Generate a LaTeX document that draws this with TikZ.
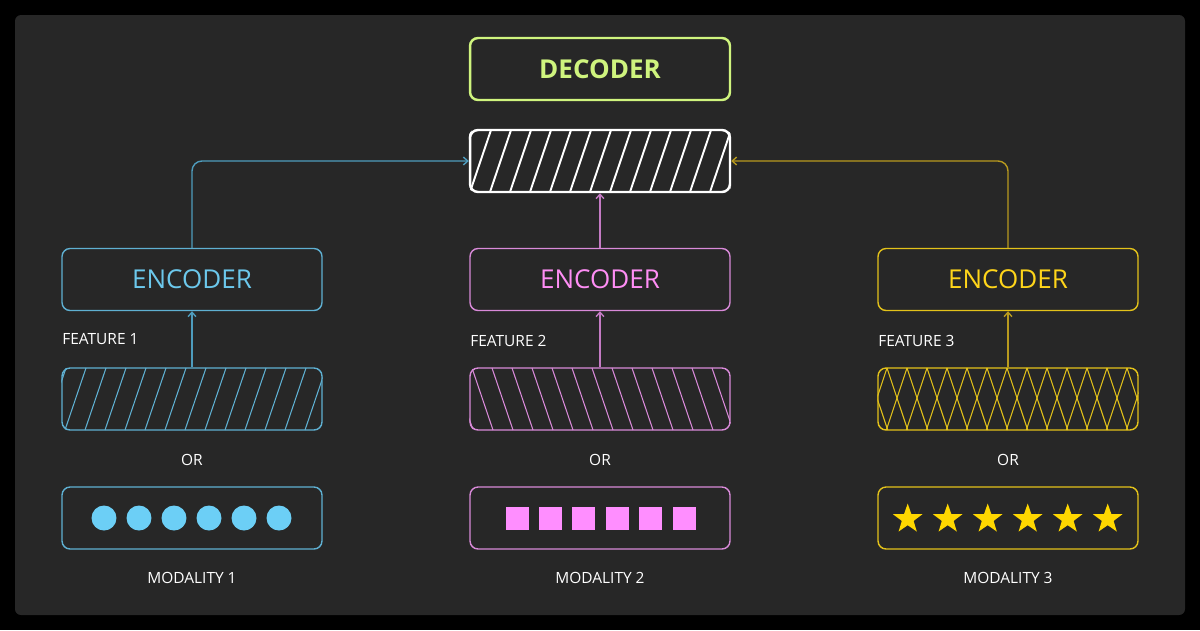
\documentclass[tikz,border=0pt]{standalone}
\usepackage{fontspec}
\setmainfont{Open Sans}
\usetikzlibrary{arrows.meta,shapes.geometric}
\definecolor{bgc}{HTML}{272727}
\definecolor{decc}{HTML}{CFF47E}
\definecolor{bluetxt}{HTML}{6CC8EC}
\definecolor{blueline}{HTML}{5FB0D2}
\definecolor{bluearr}{HTML}{4E9CBD}
\definecolor{dotc}{HTML}{6CCFF6}
\definecolor{pinktxt}{HTML}{FF8EF5}
\definecolor{pinkline}{HTML}{D98AD9}
\definecolor{pinkarr}{HTML}{C47BC4}
\definecolor{sqc}{HTML}{FF8EFF}
\definecolor{yeltxt}{HTML}{FFD51A}
\definecolor{yelline}{HTML}{E3C21A}
\definecolor{yelarr}{HTML}{B89A1E}
\definecolor{starc}{HTML}{FFD700}
\tikzset{
  blk/.style={rounded corners=0.16cm, minimum width=5.2cm, minimum height=1.24cm,
    inner sep=0pt, line width=0.8pt},
  enclbl/.style={font=\fontsize{14.8}{17}\selectfont},
  small/.style={font=\fontsize{8.8}{10}\selectfont, text=white, inner sep=0pt},
  link/.style={line width=0.8pt, -{Straight Barb[length=2.5pt,width=4.5pt]}},
}
\begin{document}
\begin{tikzpicture}[x=0.02cm, y=-0.02cm]
  \fill[black] (0,0) rectangle (1200,630);
  \fill[bgc, rounded corners=0.12cm] (15,15) rectangle (1185,615);

  \node[blk, draw=decc, line width=1.4pt, text=decc,
    font=\bfseries\fontsize{14.8}{17}\selectfont] (dec) at (600,69) {DECODER};
  \node[blk, draw=white, line width=1.4pt] (lat) at (600,161) {};
  \begin{scope}
    \clip[rounded corners=0.16cm] (lat.south west) rectangle (lat.north east);
    \foreach \x in {450,470,...,730}
      \draw[white, line width=1.1pt] (\x,192) -- ++(21,-62);
  \end{scope}

  \node[blk, draw=blueline, text=bluetxt, enclbl] (enc1) at (192,279.5) {ENCODER};
  \node[blk, draw=pinkline, text=pinktxt, enclbl] (enc2) at (600,279.5) {ENCODER};
  \node[blk, draw=yelline, text=yeltxt, enclbl] (enc3) at (1008,279.5) {ENCODER};

  \node[small, anchor=west] (ft1) at (62,339) {FEATURE 1};
  \node[small, anchor=west] (ft2) at (470,341) {FEATURE 2};
  \node[small, anchor=west] (ft3) at (878,341) {FEATURE 3};

  \node[blk, draw=blueline] (feat1) at (192,399) {};
  \node[blk, draw=pinkline] (feat2) at (600,399) {};
  \node[blk, draw=yelline] (feat3) at (1008,399) {};
  \begin{scope}
    \clip[rounded corners=0.16cm] (feat1.south west) rectangle (feat1.north east);
    \foreach \x in {45,65,...,325}
      \draw[blueline, line width=0.6pt] (\x,430) -- ++(21,-62);
  \end{scope}
  \begin{scope}
    \clip[rounded corners=0.16cm] (feat2.south west) rectangle (feat2.north east);
    \foreach \x in {452,472,...,732}
      \draw[pinkline, line width=0.6pt] (\x,368) -- ++(21,62);
  \end{scope}
  \begin{scope}
    \clip[rounded corners=0.16cm] (feat3.south west) rectangle (feat3.north east);
    \foreach \x in {847,867,...,1167}{
      \draw[yelline, line width=0.6pt] (\x,368) -- ++(20.7,62);
      \draw[yelline, line width=0.6pt] (\x,368) -- ++(-20.7,62);
    }
  \end{scope}

  \node[small] (or1) at (192,460) {OR};
  \node[small] (or2) at (600,460) {OR};
  \node[small] (or3) at (1008,460) {OR};

  \node[blk, draw=blueline] (mod1) at (192,518) {};
  \node[blk, draw=pinkline] (mod2) at (600,518) {};
  \node[blk, draw=yelline] (mod3) at (1008,518) {};
  \foreach \i in {0,...,5}{
    \node[circle, fill=dotc, minimum size=0.5cm, inner sep=0pt] (d\i) at (104+35*\i,518) {};
    \node[rectangle, fill=sqc, minimum size=0.46cm, inner sep=0pt] (q\i) at (517+33.4*\i,518) {};
    \node[star, star points=5, star point ratio=2.5, fill=starc, minimum size=0.62cm,
      inner sep=0pt] (s\i) at (907.7+40*\i,519) {};
  }

  \node[small] (nm1) at (192,578) {MODALITY 1};
  \node[small] (nm2) at (600,578) {MODALITY 2};
  \node[small] (nm3) at (1008,578) {MODALITY 3};

  \draw[link, bluearr] (feat1.north) -- (enc1.south);
  \draw[link, pinkarr] (feat2.north) -- (enc2.south);
  \draw[link, yelarr] (feat3.north) -- (enc3.south);
  \draw[link, bluearr, rounded corners=0.2cm] (enc1.north) |- (lat.west);
  \draw[link, pinkarr] (enc2.north) -- (lat.south);
  \draw[link, yelarr, rounded corners=0.2cm] (enc3.north) |- (lat.east);
\end{tikzpicture}
\end{document}
